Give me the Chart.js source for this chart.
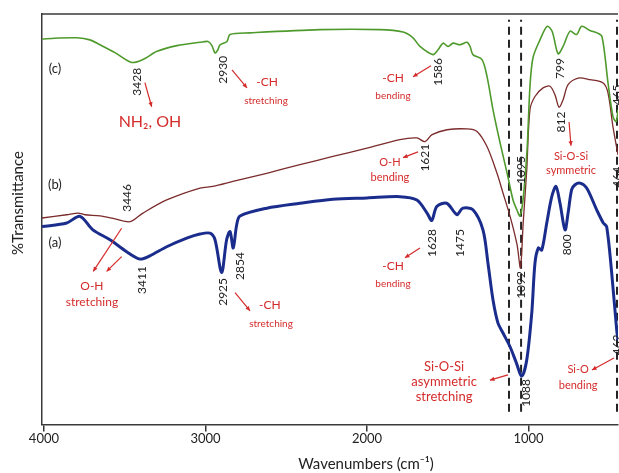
<!DOCTYPE html>
<html>
<head>
<meta charset="utf-8">
<script src="https://cdn.jsdelivr.net/npm/chart.js@4.4.1/dist/chart.umd.min.js"></script>
<style>
html,body{margin:0;padding:0;background:#fff;}
#wrap{width:619px;height:473px;}
</style>
</head>
<body>
<div id="wrap"><canvas id="c" width="619" height="473"></canvas></div>
<script>
// ---- Data (wavenumber in cm-1, %T in arbitrary stacked units) ----
const xTicks = [4000, 3000, 2000, 1000];

// (c) green
const cWave = [4010,3932,3796,3715,3653,3560,3457,3387,3300,3176,3034,2984,2960,2941,2923,2910,2867,2848,2724,2291,1920,1777,1715,1672,1591,1560,1529,1498,1467,1424,1381,1362,1344,1288,1257,1220,1176,1133,1096,1071,1053,1034,1009,991,972,929,885,854,817,786,743,702,671,620,576,545,508,477,457,446];
const cT    = [93.9,94.1,94.2,93.7,92.5,90.6,88.2,88.9,90.9,92.3,93.1,93.3,92.3,90.5,91.3,92.5,93.3,95.0,95.4,96.2,96.2,95.6,94.2,92.1,90.1,91.3,92.9,92.1,92.9,92.5,93.1,92.1,90.1,88.9,84.8,76.7,68.6,61.3,54.7,52.2,50.8,54.7,66.9,82.4,89.4,93.7,97.0,95.8,90.3,92.1,95.8,95.0,97.0,96.0,95.4,94.5,83.3,75.0,73.8,76.7];

// (b) brown
const bWave = [4012,3859,3788,3746,3653,3560,3467,3387,3240,3034,2954,2830,2621,2415,2211,2000,1796,1691,1641,1597,1504,1381,1319,1257,1195,1158,1114,1071,1050,1033,1011,991,960,910,867,836,811,786,755,693,619,538,508,477,446];
const bT    = [50.3,51.1,51.5,51.1,50.8,50.1,49.4,51.5,54.7,57.6,58.0,59.2,61.2,63.3,65.3,67.3,69.4,69.8,68.9,70.6,71.8,72.0,71.4,67.7,61.2,56.4,50.7,43.8,38.2,49.1,62.0,76.7,79.9,82.0,82.4,80.3,77.3,79.1,82.8,84.4,84.0,83.2,80.8,72.5,65.7];

// (a) blue
const aWave = [4012,3859,3777,3697,3591,3488,3406,3344,3240,3116,3034,2972,2941,2900,2869,2848,2828,2807,2786,2621,2415,2211,2000,1796,1691,1628,1599,1568,1507,1455,1441,1406,1344,1282,1251,1220,1189,1158,1115,1077,1042,1011,980,960,939,918,887,856,830,805,774,755,733,712,681,640,578,537,516,485,454,446];
const aT    = [48.2,49.1,50.7,47.4,45.0,42.1,40.3,41.1,43.3,45.4,46.4,46.6,45.0,37.0,45.0,47.0,43.0,48.6,50.8,52.7,53.9,54.9,55.2,55.5,54.7,51.5,49.7,53.1,53.9,51.5,51.1,52.7,52.3,47.4,39.3,30.4,24.7,22.3,19.0,15.2,11.8,15.7,27.1,39.3,43.0,42.5,49.1,55.5,58.0,53.9,47.4,51.5,57.2,58.4,58.8,57.6,52.3,49.1,48.2,36.9,23.0,20.6];

// dashed marker lines
const dashWave = [1121, 1046, 452];
const dashRange = [3.1, 98.6];

// peak number labels: text, wavenumber, %T
const peakText = ["3428","2930","3446","3411","2925","2854","1586","1621","1628","1475","1095","1092","1088","799","812","800","465","464","462"];
const peakWave = [3424,2892,3486,3393,2892,2786,1560,1641,1598,1424,1046,1046,1015,805,799,762,452,452,452];
const peakT    = [83.5,86.4,55.2,35.2,32.3,38.6,85.9,65.0,44.2,44.2,62.0,34.0,7.7,86.7,73.7,43.8,80.3,60.3,19.4];

// sample tags
const tagText = ["(c)","(b)","(a)"];
const tagWave = [3932,3932,3932];
const tagT    = [86.6,58.4,44.3];

// red assignment notes: text, wavenumber, %T, font size
const noteText = ["NH\u2082, OH","-CH","stretching","O-H","stretching","-CH","stretching","-CH","bending","O-H","bending","-CH","bending","Si-O-Si","symmetric","Si-O-Si","asymmetric","stretching","Si-O","bending"];
const noteWave = [3344,2619,2625,3703,3703,2601,2594,1839,1839,1858,1858,1839,1839,737,737,1523,1523,1523,693,693];
const noteT    = [73.7,83.3,78.9,33.8,29.9,29.1,24.5,84.5,80.1,63.8,60.3,38.6,34.3,65.2,62.0,14.0,10.4,6.7,13.3,9.6];
const noteSize = [16,12,10,12,12,12,10,12,10,11,11,12,10,11,11,13,13,13,11,11];

// red arrows: from (wave,T) to (wave,T)
const arrowFromWave = [3375,2836,3519,3519,2817,1604,1684,1672,749,1127,471];
const arrowFromT    = [83.3,86.4,47.8,40.9,32.1,87.4,66.4,43.0,73.7,12.1,16.2];
const arrowToWave   = [3333,2743,3695,3612,2724,1715,1777,1765,737,1239,607];
const arrowToT      = [77.4,82.0,37.3,37.3,27.7,84.7,65.0,40.6,67.9,10.8,13.3];

const FONT = 'Lato, "Open Sans", "DejaVu Sans", sans-serif';
const RED = '#d42b2b';

function pts(xs, ys){ return xs.map((x,i)=>({x:x, y:ys[i]})); }

const datasets = [
  {label:'(c)', data:pts(cWave,cT), borderColor:'#4e9a2c', borderWidth:1.6, pointRadius:0, tension:0.3, fill:false},
  {label:'(b)', data:pts(bWave,bT), borderColor:'#7b2b2b', borderWidth:1.3, pointRadius:0, tension:0.3, fill:false},
  {label:'(a)', data:pts(aWave,aT), borderColor:'#1b2d8c', borderWidth:3, pointRadius:0, tension:0.3, fill:false}
];
dashWave.forEach((w,i)=>{
  datasets.push({label:'dash'+i, data:[{x:w,y:dashRange[0]},{x:w,y:dashRange[1]}], borderColor:'#222', borderWidth:2, borderDash:[8,5], pointRadius:0, fill:false});
});

const annot = {
  id:'annot',
  afterDatasetsDraw(chart){
    const ctx = chart.ctx, xs = chart.scales.x, ys = chart.scales.y, ca = chart.chartArea;
    const X = v=>xs.getPixelForValue(v), Y = v=>ys.getPixelForValue(v);
    ctx.save();
    // top frame line
    ctx.strokeStyle = '#3a3a3a'; ctx.lineWidth = 1.5;
    ctx.beginPath(); ctx.moveTo(ca.left, ca.top); ctx.lineTo(ca.right, ca.top); ctx.stroke();
    // peak labels (rotated)
    ctx.fillStyle = '#222';
    ctx.font = '12px ' + FONT;
    ctx.textAlign = 'center'; ctx.textBaseline = 'middle';
    peakText.forEach((t,i)=>{
      ctx.save(); ctx.translate(X(peakWave[i]), Y(peakT[i])); ctx.rotate(-Math.PI/2);
      ctx.fillText(t,0,0); ctx.restore();
    });
    // tags
    ctx.font = '13px ' + FONT;
    tagText.forEach((t,i)=>{ ctx.fillText(t, X(tagWave[i]), Y(tagT[i])); });
    // notes
    ctx.fillStyle = RED;
    noteText.forEach((t,i)=>{
      ctx.font = noteSize[i] + 'px ' + FONT;
      ctx.fillText(t, X(noteWave[i]), Y(noteT[i]));
    });
    // arrows
    ctx.strokeStyle = RED; ctx.lineWidth = 1.2;
    arrowFromWave.forEach((w,i)=>{
      const x1=X(w), y1=Y(arrowFromT[i]), x2=X(arrowToWave[i]), y2=Y(arrowToT[i]);
      const a = Math.atan2(y2-y1, x2-x1), h=5;
      ctx.beginPath(); ctx.moveTo(x1,y1); ctx.lineTo(x2,y2); ctx.stroke();
      ctx.beginPath(); ctx.moveTo(x2,y2);
      ctx.lineTo(x2 - h*Math.cos(a-0.45), y2 - h*Math.sin(a-0.45));
      ctx.lineTo(x2 - h*Math.cos(a+0.45), y2 - h*Math.sin(a+0.45));
      ctx.closePath(); ctx.fill();
    });
    // axis titles
    ctx.fillStyle = '#222';
    ctx.font = '15px ' + FONT;
    ctx.fillText('Wavenumbers (cm\u207B\u00B9)', 366, 464);
    ctx.save(); ctx.translate(18, 203); ctx.rotate(-Math.PI/2);
    ctx.fillText('%Transmittance', 0, 0); ctx.restore();
    ctx.restore();
  }
};

new Chart(document.getElementById('c'), {
  type:'line',
  data:{datasets:datasets},
  options:{
    responsive:false, animation:false, devicePixelRatio:1,
    layout:{padding:{left:42, top:14, right:1, bottom:0}},
    plugins:{legend:{display:false}, tooltip:{enabled:false}},
    scales:{
      x:{
        type:'linear', reverse:true, min:446, max:4012,
        afterBuildTicks:(s)=>{ s.ticks = xTicks.map(v=>({value:v})); },
        afterFit:(s)=>{ s.height = 48.5; },
        grid:{display:true, drawOnChartArea:false, drawTicks:true, tickLength:7, color:'#333', lineWidth:1.5},
        border:{display:true, color:'#3a3a3a', width:1.5},
        ticks:{font:{family:FONT, size:13}, color:'#222', padding:0, maxRotation:0, autoSkip:false, callback:(v)=>String(v)},
        title:{display:false}
      },
      y:{
        type:'linear', min:0, max:100,
        afterFit:(s)=>{ s.width = 0; },
        grid:{display:false},
        border:{display:true, color:'#3a3a3a', width:1.5},
        ticks:{display:false},
        title:{display:false}
      }
    }
  },
  plugins:[annot]
});
</script>
</body>
</html>
